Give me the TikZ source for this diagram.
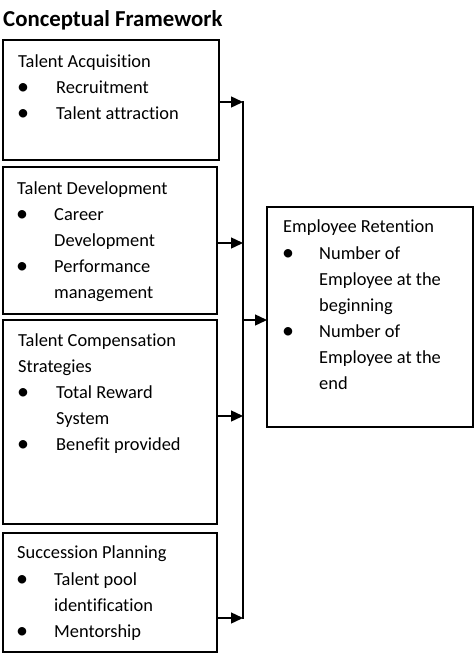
\documentclass[tikz,border=0pt]{standalone}
\usepackage{fontspec}
\setmainfont{Carlito}[Ligatures=NoCommon]
\usetikzlibrary{arrows.meta}
\tikzset{
  box/.style={draw=black, line width=1.4pt, anchor=north west, inner sep=0pt, outer sep=0pt},
  txt/.style={anchor=base west, inner sep=0pt, font=\fontsize{18.4}{22}\selectfont},
  bul/.style={anchor=base west, inner sep=0pt, font=\fontsize{24}{26}\selectfont},
  ttl/.style={anchor=base west, inner sep=0pt, font=\fontsize{22.8}{26}\selectfont\bfseries},
  arr/.style={line width=1.4pt, -{Triangle[length=12pt,width=11pt]}},
  bus/.style={line width=1.4pt}
}
\begin{document}
\begin{tikzpicture}[x=1pt,y=-1pt]
\useasboundingbox (0,0) rectangle (474,653);
% title
\node[ttl] (title) at (3,27) {Conceptual Framework};
% boxes
\node[box, minimum width=216pt, minimum height=120pt] (b1) at (3,40) {};
\node[box, minimum width=214pt, minimum height=147pt] (b2) at (3,167) {};
\node[box, minimum width=214pt, minimum height=204pt] (b3) at (3,320) {};
\node[box, minimum width=214pt, minimum height=119pt] (b4) at (3,533) {};
\node[box, minimum width=206pt, minimum height=220pt] (rb) at (267,207) {};
% box 1 text
\node[txt] (h1) at (18,67) {Talent Acquisition};
\node[bul] (u11) at (17,94) {•};
\node[txt] (t11) at (56,93) {Recruitment};
\node[bul] (u12) at (17,120) {•};
\node[txt] (t12) at (56,119) {Talent attraction};
% box 2 text
\node[txt] (h2) at (17,194) {Talent Development};
\node[bul] (u21) at (16,221) {•};
\node[txt] (t21) at (54,220) {Career};
\node[txt] (t22) at (54,246) {Development};
\node[bul] (u22) at (16,273) {•};
\node[txt] (t23) at (54,272) {Performance};
\node[txt] (t24) at (54,298) {management};
% box 3 text
\node[txt] (h3) at (18,346) {Talent Compensation};
\node[txt] (h3b) at (18,372) {Strategies};
\node[bul] (u31) at (17,399) {•};
\node[txt] (t31) at (56,398) {Total Reward};
\node[txt] (t32) at (56,424) {System};
\node[bul] (u32) at (17,451) {•};
\node[txt] (t33) at (56,450) {Benefit provided};
% box 4 text
\node[txt] (h4) at (17,558) {Succession Planning};
\node[bul] (u41) at (16,586) {•};
\node[txt] (t41) at (54,585) {Talent pool};
\node[txt] (t42) at (54,611) {identification};
\node[bul] (u42) at (16,638) {•};
\node[txt] (t43) at (54,637) {Mentorship};
% right box text
\node[txt] (hr) at (283,232) {Employee Retention};
\node[bul] (ur1) at (282,260) {•};
\node[txt] (tr1) at (319,259) {Number of};
\node[txt] (tr2) at (319,285) {Employee at the};
\node[txt] (tr3) at (319,311) {beginning};
\node[bul] (ur2) at (282,338) {•};
\node[txt] (tr4) at (319,337) {Number of};
\node[txt] (tr5) at (319,363) {Employee at the};
\node[txt] (tr6) at (319,389) {end};
% connectors
\coordinate (j1) at (243,102);
\coordinate (j2) at (243,243);
\coordinate (j3) at (243,416);
\coordinate (j4) at (243,618);
\coordinate (jr) at (243,320);
\draw[arr] (b1.east |- j1) -- (j1);
\draw[arr] (b2.east |- j2) -- (j2);
\draw[arr] (b3.east |- j3) -- (j3);
\draw[arr] (b4.east |- j4) -- (j4);
\draw[bus] ([yshift=0.7pt]j1) -- ([yshift=-0.7pt]j4);
\draw[arr] (jr) -- (rb.west |- jr);
\end{tikzpicture}
\end{document}
